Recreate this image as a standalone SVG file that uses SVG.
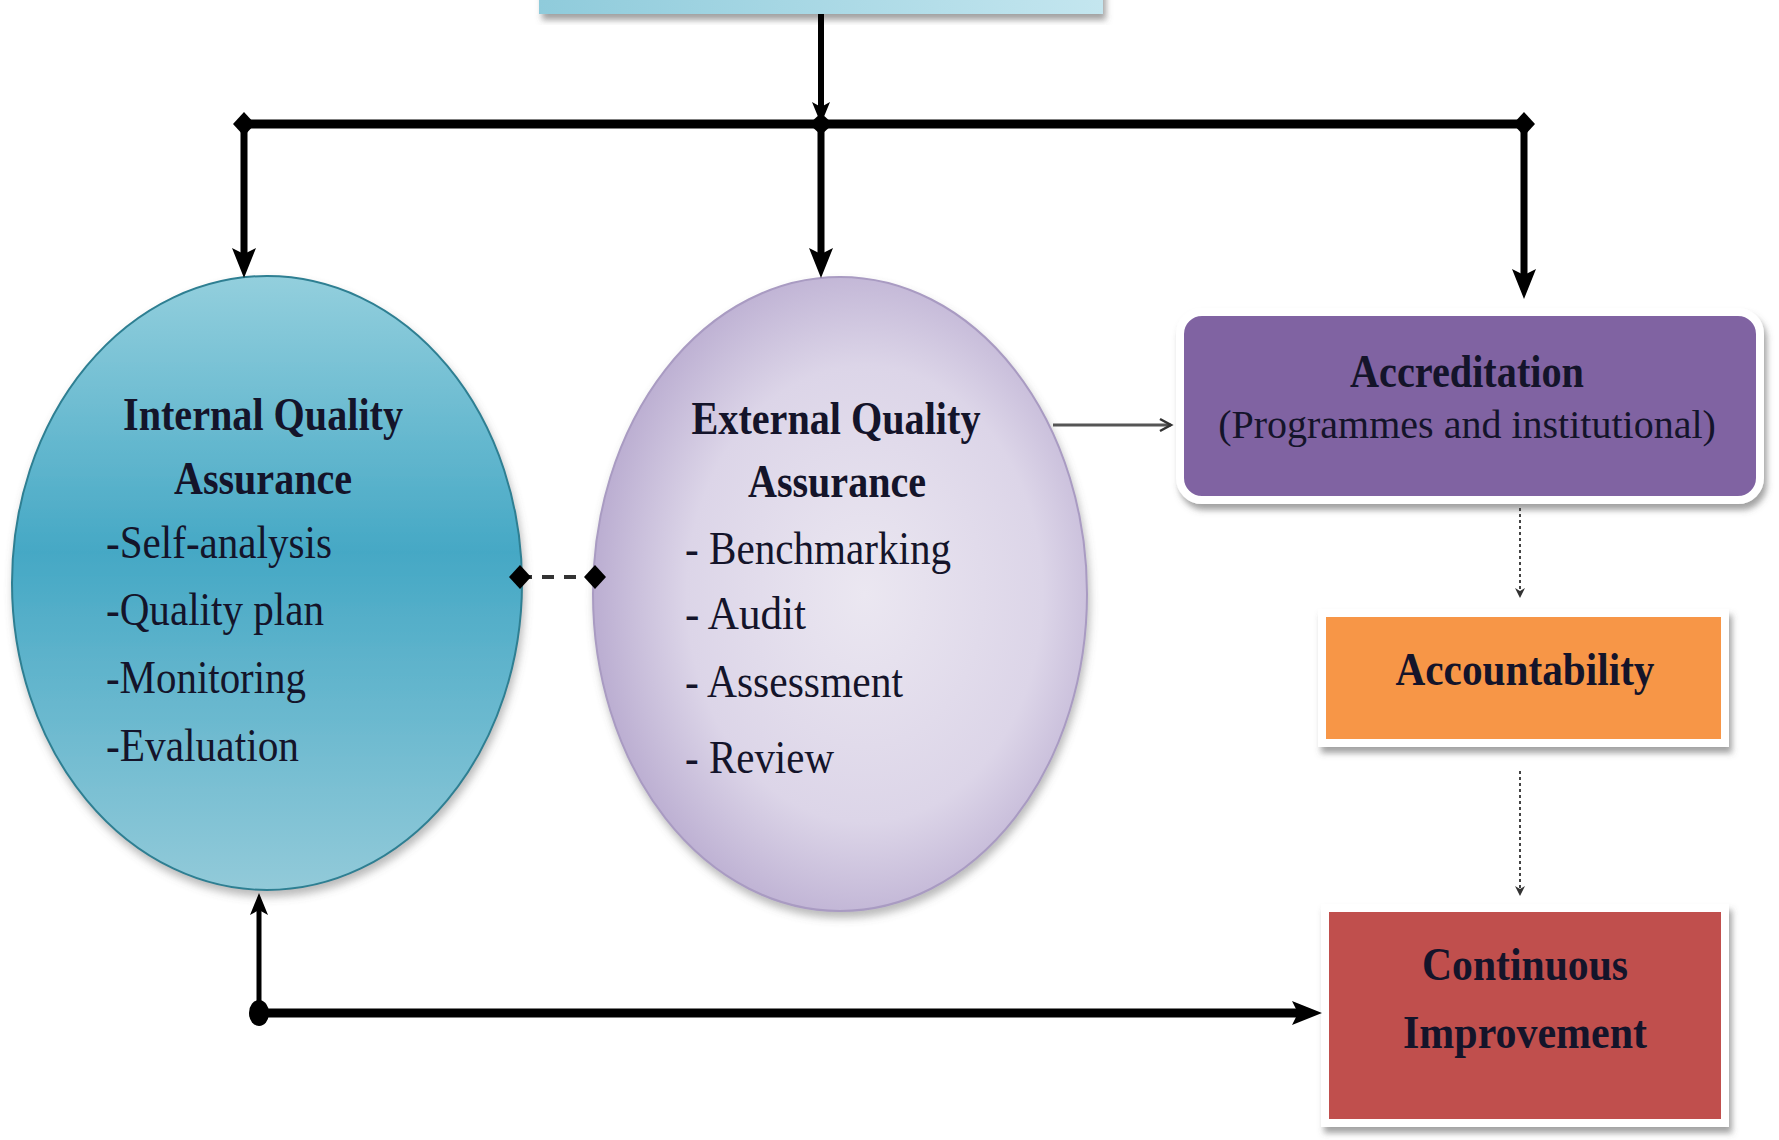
<svg xmlns="http://www.w3.org/2000/svg" width="1779" height="1140" viewBox="0 0 1779 1140">
<style>
.t{font-family:"Liberation Serif","Times New Roman",serif;fill:#14142a;font-size:46px}
.b{font-weight:bold}
.s40{font-size:40px}
.thick{stroke:#000;fill:none}
.dot{stroke:#444;stroke-width:2;stroke-dasharray:3 3;fill:none}
</style>
<defs>
<linearGradient id="gTop" x1="0" y1="0" x2="1" y2="0">
<stop offset="0" stop-color="#8fcbdb"/><stop offset="1" stop-color="#c4e6ef"/>
</linearGradient>
<linearGradient id="gInt" x1="0" y1="0" x2="0" y2="1">
<stop offset="0" stop-color="#93cfdd"/><stop offset="0.45" stop-color="#45a8c5"/><stop offset="1" stop-color="#92cad9"/>
</linearGradient>
<radialGradient id="gExt" cx="0.55" cy="0.5" r="0.6">
<stop offset="0" stop-color="#ebe7f1"/><stop offset="0.6" stop-color="#dcd5e8"/><stop offset="1" stop-color="#b2a3cb"/>
</radialGradient>
<filter id="sh" x="-10%" y="-10%" width="125%" height="130%">
<feDropShadow dx="3" dy="6" stdDeviation="3" flood-color="#555" flood-opacity="0.55"/>
</filter>
<filter id="shc" x="-10%" y="-10%" width="125%" height="125%">
<feDropShadow dx="2" dy="6" stdDeviation="4" flood-color="#666" flood-opacity="0.45"/>
</filter>
<marker id="ah" markerUnits="userSpaceOnUse" markerWidth="32" markerHeight="26" refX="14" refY="13" orient="auto" viewBox="0 0 32 26">
<path d="M0,1 L30,13 L0,25 L6,13 z" fill="#000"/>
</marker>
<marker id="ahs" markerUnits="userSpaceOnUse" markerWidth="24" markerHeight="20" refX="10" refY="10" orient="auto" viewBox="0 0 24 20">
<path d="M0,1 L22,10 L0,19 L5,10 z" fill="#000"/>
</marker>
<marker id="dia" markerUnits="userSpaceOnUse" markerWidth="22" markerHeight="24" refX="11" refY="12" orient="auto" viewBox="0 0 22 24">
<path d="M11,0 L22,12 L11,24 L0,12 z" fill="#000"/>
</marker>
<marker id="open" markerUnits="userSpaceOnUse" markerWidth="16" markerHeight="16" refX="13" refY="8" orient="auto" viewBox="0 0 16 16">
<path d="M2,2 L13,8 L2,14" fill="none" stroke="#333" stroke-width="2.5"/>
</marker>
<marker id="small" markerUnits="userSpaceOnUse" markerWidth="12" markerHeight="10" refX="10" refY="5" orient="auto" viewBox="0 0 12 10">
<path d="M0,0 L10,5 L0,10 L3,5 z" fill="#333"/>
</marker>
</defs>
<rect width="1779" height="1140" fill="#fff"/>

<g id="top-box">
<rect x="539" y="-40" width="564" height="54" fill="url(#gTop)" filter="url(#sh)"/>
</g>

<g id="internal-qa">
<ellipse cx="267" cy="583" rx="255" ry="307" fill="url(#gInt)" stroke="#2e7f92" stroke-width="2" filter="url(#shc)"/>
<text class="t b" x="263" y="430" text-anchor="middle" textLength="280" lengthAdjust="spacingAndGlyphs">Internal Quality</text>
<text class="t b" x="263" y="494" text-anchor="middle" textLength="178" lengthAdjust="spacingAndGlyphs">Assurance</text>
<text class="t" x="106" y="558" textLength="226" lengthAdjust="spacingAndGlyphs">-Self-analysis</text>
<text class="t" x="106" y="625" textLength="218" lengthAdjust="spacingAndGlyphs">-Quality plan</text>
<text class="t" x="106" y="693" textLength="200" lengthAdjust="spacingAndGlyphs">-Monitoring</text>
<text class="t" x="106" y="761" textLength="193" lengthAdjust="spacingAndGlyphs">-Evaluation</text>
</g>

<g id="external-qa">
<ellipse cx="840" cy="594" rx="247" ry="317" fill="url(#gExt)" stroke="#a99bc2" stroke-width="2" filter="url(#shc)"/>
<text class="t b" x="836" y="434" text-anchor="middle" textLength="289" lengthAdjust="spacingAndGlyphs">External Quality</text>
<text class="t b" x="837" y="497" text-anchor="middle" textLength="178" lengthAdjust="spacingAndGlyphs">Assurance</text>
<text class="t" x="685" y="564" textLength="266" lengthAdjust="spacingAndGlyphs">- Benchmarking</text>
<text class="t" x="685" y="629" textLength="121" lengthAdjust="spacingAndGlyphs">- Audit</text>
<text class="t" x="685" y="697" textLength="218" lengthAdjust="spacingAndGlyphs">- Assessment</text>
<text class="t" x="685" y="773" textLength="149" lengthAdjust="spacingAndGlyphs">- Review</text>
</g>

<g id="accreditation">
<rect x="1180" y="312" width="580" height="188" rx="22" fill="#8064a2" stroke="#fff" stroke-width="8" filter="url(#sh)"/>
<text class="t b" x="1467" y="387" text-anchor="middle" textLength="234" lengthAdjust="spacingAndGlyphs">Accreditation</text>
<text class="t s40" x="1467" y="438" text-anchor="middle">(Programmes and institutional)</text>
</g>

<g id="accountability">
<rect x="1322" y="613" width="403" height="130" fill="#f79646" stroke="#fff" stroke-width="8" filter="url(#sh)"/>
<text class="t b" x="1525" y="685" text-anchor="middle" textLength="259" lengthAdjust="spacingAndGlyphs">Accountability</text>
</g>

<g id="continuous-improvement">
<rect x="1325" y="908" width="400" height="215" fill="#c0504d" stroke="#fff" stroke-width="8" filter="url(#sh)"/>
<text class="t b" x="1525" y="980" text-anchor="middle" textLength="206" lengthAdjust="spacingAndGlyphs">Continuous</text>
<text class="t b" x="1525" y="1048" text-anchor="middle" textLength="244" lengthAdjust="spacingAndGlyphs">Improvement</text>
</g>

<g id="connectors">
<path class="thick" d="M821,14 L821,112" stroke-width="6" marker-end="url(#ahs)"/>
<path class="thick" d="M244,124 L1524,124" stroke-width="9" marker-start="url(#dia)" marker-end="url(#dia)"/>
<path class="thick" d="M821,124 L821,128" stroke-width="1" marker-start="url(#dia)"/>
<path class="thick" d="M244,124 L244,262" stroke-width="7" marker-end="url(#ah)"/>
<path class="thick" d="M821,124 L821,262" stroke-width="7" marker-end="url(#ah)"/>
<path class="thick" d="M1524,124 L1524,283" stroke-width="7" marker-end="url(#ah)"/>
<path d="M520,577 L595,577" stroke="#333" stroke-width="4" stroke-dasharray="12 10" fill="none" marker-start="url(#dia)" marker-end="url(#dia)"/>
<path d="M1053,425 L1171,425" stroke="#555" stroke-width="3" fill="none" marker-end="url(#open)"/>
<path class="dot" d="M1520,508 L1520,598" marker-end="url(#small)"/>
<path class="dot" d="M1520,771 L1520,896" marker-end="url(#small)"/>
<path class="thick" d="M259,1013 L1306,1013" stroke-width="9" marker-end="url(#ah)"/>
<path class="thick" d="M259,1013 L259,905" stroke-width="5" marker-end="url(#ahs)"/>
<ellipse cx="259" cy="1013" rx="10" ry="13" fill="#000"/>
</g>
</svg>
